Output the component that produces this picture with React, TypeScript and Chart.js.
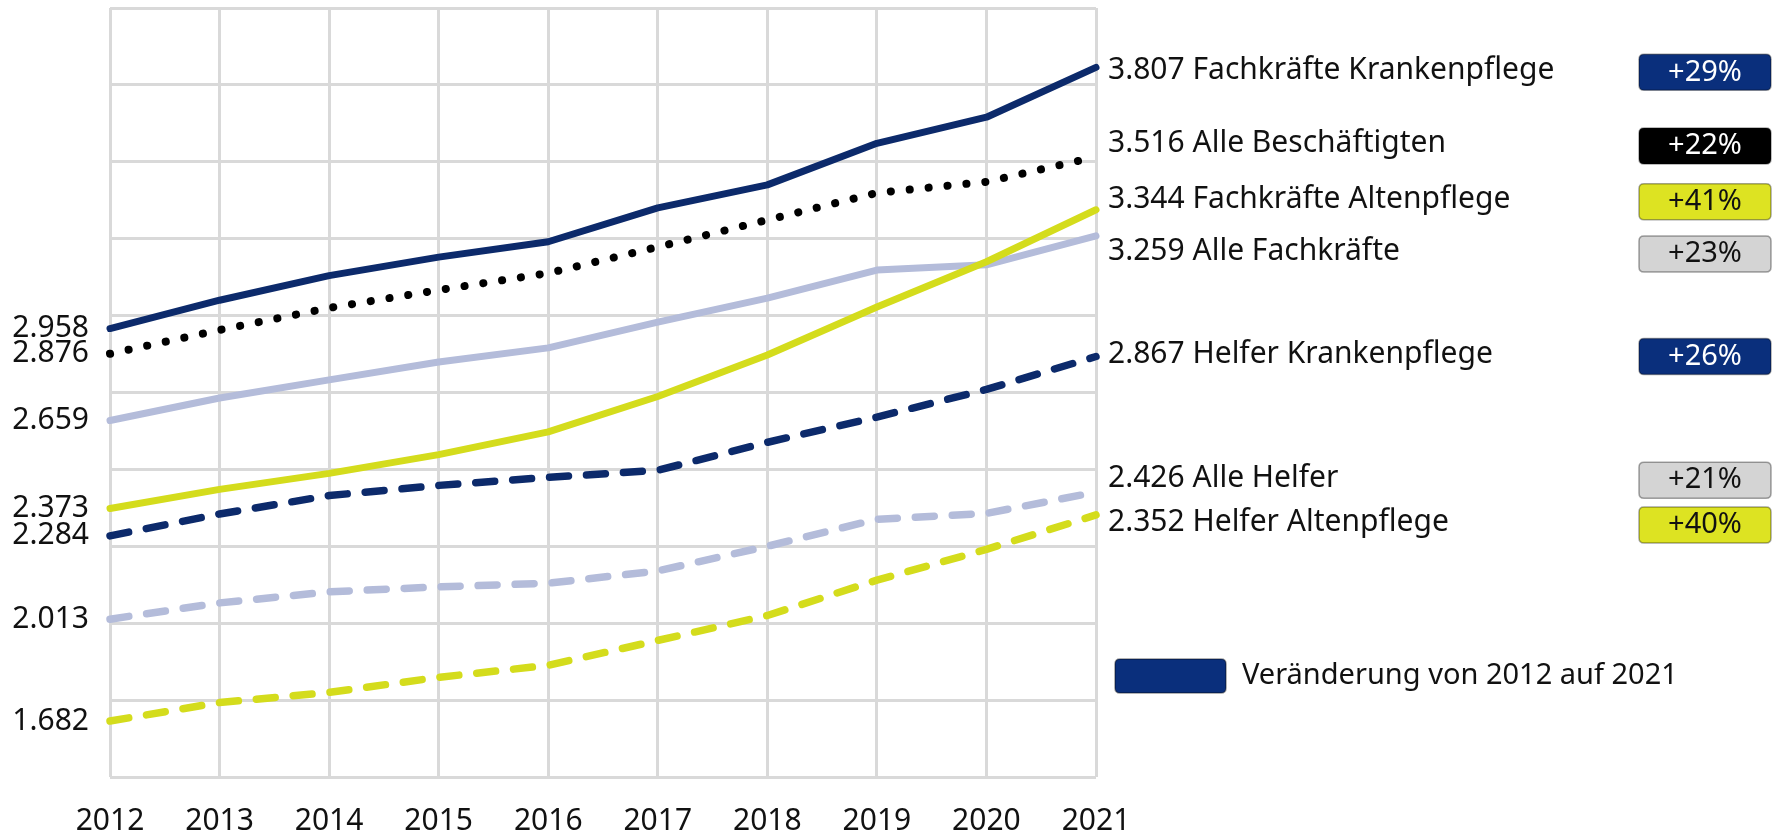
import React, { useEffect, useRef } from 'react';
import { Chart, registerables } from 'chart.js';

Chart.register(...registerables);

// ---- Data ----
const years = ['2012', '2013', '2014', '2015', '2016', '2017', '2018', '2019', '2020', '2021'];

const fachkraefteKrankenpflege = [2958, 3050, 3130, 3190, 3240, 3350, 3425, 3560, 3645, 3807];
const alleBeschaeftigten = [2876, 2953, 3025, 3083, 3138, 3223, 3311, 3399, 3435, 3516];
const fachkraefteAltenpflege = [2373, 2435, 2487, 2548, 2622, 2737, 2872, 3028, 3175, 3344];
const alleFachkraefte = [2659, 2732, 2791, 2849, 2895, 2979, 3057, 3148, 3165, 3259];
const helferKrankenpflege = [2284, 2355, 2415, 2448, 2474, 2497, 2588, 2670, 2760, 2867];
const alleHelfer = [2013, 2066, 2102, 2118, 2130, 2170, 2250, 2338, 2357, 2426];
const helferAltenpflege = [1682, 1742, 1775, 1824, 1863, 1944, 2025, 2140, 2240, 2352];

const seriesNames = [
  'Fachkräfte Krankenpflege',
  'Alle Beschäftigten',
  'Fachkräfte Altenpflege',
  'Alle Fachkräfte',
  'Helfer Krankenpflege',
  'Alle Helfer',
  'Helfer Altenpflege',
];

const legendText = 'Veränderung von 2012 auf 2021';

// ---- Styles ----
const NAVY = '#0c2a6b';
const YELLOW = '#d4dc1c';
const LIGHT = '#b4bcda';
const BLACK = '#000000';
const GRID = '#d9d9d9';
const FONT = '"Noto Sans", "Open Sans", sans-serif';

const seriesData = [
  fachkraefteKrankenpflege,
  alleBeschaeftigten,
  fachkraefteAltenpflege,
  alleFachkraefte,
  helferKrankenpflege,
  alleHelfer,
  helferAltenpflege,
];
const seriesColors = [NAVY, BLACK, YELLOW, LIGHT, NAVY, LIGHT, YELLOW];
const seriesDash: number[][] = [[], [0.1, 18.9], [], [], [19, 18], [19, 18], [19, 18]];
const seriesWidth = [7, 8, 7, 7, 7.5, 7.5, 7.5];
const badgeFill = ['#0a2f7c', '#000000', '#dde322', '#d4d4d4', '#0a2f7c', '#d4d4d4', '#dde322'];
const badgeText = ['#ffffff', '#ffffff', '#111111', '#111111', '#ffffff', '#111111', '#111111'];
const labelNudge = [3, -13, -10, 16, -2, -14, 8];

const fmt = (v: number) => Math.round(v).toString().replace(/\B(?=(\d{3})+(?!\d))/g, '.');

function roundRect(ctx: CanvasRenderingContext2D, x: number, y: number, w: number, h: number, r: number) {
  ctx.beginPath();
  ctx.moveTo(x + r, y);
  ctx.lineTo(x + w - r, y);
  ctx.quadraticCurveTo(x + w, y, x + w, y + r);
  ctx.lineTo(x + w, y + h - r);
  ctx.quadraticCurveTo(x + w, y + h, x + w - r, y + h);
  ctx.lineTo(x + r, y + h);
  ctx.quadraticCurveTo(x, y + h, x, y + h - r);
  ctx.lineTo(x, y + r);
  ctx.quadraticCurveTo(x, y, x + r, y);
  ctx.closePath();
}

const overlayPlugin = {
  id: 'overlayLabels',
  afterDraw(chart: any) {
    const ctx: CanvasRenderingContext2D = chart.ctx;
    const ya = chart.scales.y;
    const area = chart.chartArea;
    ctx.save();
    seriesData.forEach((data, i) => {
      const first = data[0];
      const last = data[data.length - 1];
      const y = ya.getPixelForValue(last) + labelNudge[i];
      ctx.font = `30px ${FONT}`;
      ctx.textBaseline = 'middle';
      ctx.textAlign = 'left';
      ctx.fillStyle = '#111111';
      ctx.fillText(`${fmt(last)} ${seriesNames[i]}`, area.right + 12, y);

      const pct = Math.round((last / first - 1) * 100);
      const bw = 132;
      const bh = 36;
      const bx = chart.width - bw - 4;
      const by = y - bh / 2 + 2;
      roundRect(ctx, bx, by, bw, bh, 5);
      ctx.fillStyle = badgeFill[i];
      ctx.fill();
      ctx.lineWidth = 1.5;
      ctx.strokeStyle = 'rgba(0,0,0,0.35)';
      ctx.stroke();
      ctx.fillStyle = badgeText[i];
      ctx.textAlign = 'center';
      ctx.font = `29px ${FONT}`;
      ctx.fillText(`+${pct}%`, bx + bw / 2, by + bh / 2);
    });

    // legend
    const lx = area.right + 19;
    const ly = 659;
    roundRect(ctx, lx, ly, 111, 34, 5);
    ctx.fillStyle = '#0a2f7c';
    ctx.fill();
    ctx.lineWidth = 1.5;
    ctx.strokeStyle = 'rgba(0,0,0,0.4)';
    ctx.stroke();
    ctx.fillStyle = '#111111';
    ctx.textAlign = 'left';
    ctx.textBaseline = 'middle';
    ctx.font = `29px ${FONT}`;
    ctx.fillText(legendText, lx + 127, ly + 17);
    ctx.restore();
  },
};

export default function App() {
  const canvasRef = useRef<HTMLCanvasElement | null>(null);

  useEffect(() => {
    document.body.style.margin = '0';
    const canvas = canvasRef.current;
    if (!canvas) return;
    const chart = new Chart(canvas, {
      type: 'line',
      data: {
        labels: years,
        datasets: seriesData.map((d, i) => ({
          label: seriesNames[i],
          data: d,
          borderColor: seriesColors[i],
          backgroundColor: seriesColors[i],
          borderWidth: seriesWidth[i],
          borderDash: seriesDash[i],
          borderCapStyle: 'round' as const,
          borderJoinStyle: 'round' as const,
          pointRadius: 0,
          tension: 0,
          fill: false,
          yAxisID: 'y',
          clip: false as any,
        })),
      },
      options: {
        responsive: false,
        maintainAspectRatio: false,
        animation: false,
        devicePixelRatio: 1,
        layout: { padding: { top: 8, left: 0, right: 0, bottom: 0 } },
        plugins: {
          legend: { display: false },
          tooltip: { enabled: false },
        },
        scales: {
          x: {
            type: 'category',
            offset: false,
            grid: { color: GRID, lineWidth: 3, drawTicks: false },
            border: { display: false },
            ticks: {
              font: { family: FONT, size: 30 },
              color: '#111111',
              padding: 26,
              maxRotation: 0,
              autoSkip: false,
            },
            afterFit: (scale: any) => {
              scale.height = 56;
              scale.paddingLeft = 0;
              scale.paddingRight = 0;
            },
          },
          yl: {
            type: 'linear',
            position: 'left',
            min: 1500,
            max: 4000,
            grid: { display: false, drawTicks: false },
            border: { display: false },
            ticks: {
              autoSkip: false,
              font: { family: FONT, size: 30 },
              color: '#111111',
              padding: 21,
              callback: (v: any) => fmt(Number(v)),
            },
            afterBuildTicks: (scale: any) => {
              scale.ticks = seriesData.map((d) => ({ value: d[0] }));
            },
            afterFit: (scale: any) => {
              scale.width = 110;
              scale.paddingTop = 0;
              scale.paddingBottom = 0;
            },
          },
          y: {
            type: 'linear',
            position: 'right',
            min: 1500,
            max: 4000,
            grid: { color: GRID, lineWidth: 3, drawTicks: false },
            border: { display: false },
            ticks: { stepSize: 250, display: false },
            afterFit: (scale: any) => {
              scale.width = 679;
              scale.paddingTop = 0;
              scale.paddingBottom = 0;
            },
          },
        },
      },
      plugins: [overlayPlugin],
    });
    return () => chart.destroy();
  }, []);

  return (
    <canvas
      ref={canvasRef}
      width={1775}
      height={833}
      style={{ display: 'block', width: '1775px', height: '833px', background: '#ffffff' }}
    />
  );
}
